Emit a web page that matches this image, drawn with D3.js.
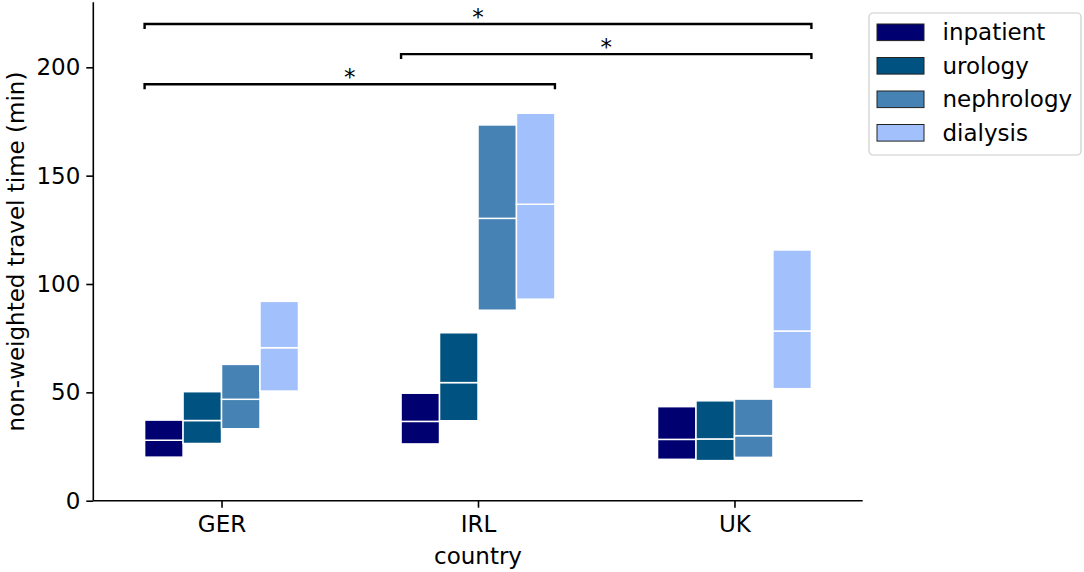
<!DOCTYPE html>
<html>
<head>
<meta charset="utf-8">
<script src="https://cdn.jsdelivr.net/npm/d3@7"></script>
<style>
  html, body { margin: 0; padding: 0; background: #fff; }
  svg { display: block; font-family: "DejaVu Sans", sans-serif; }
  text { fill: #000; }
</style>
</head>
<body>
<svg id="chart" width="1084" height="572"></svg>
<script>
// ---- data ----
const countries = ["GER", "IRL", "UK"];
const services = ["inpatient", "urology", "nephrology", "dialysis"];
const colors = ["#000070", "#005280", "#4682b4", "#a2c0fc"];
// lower quartile, median, upper quartile per service, in country order
const inpatientQ1 = [20.1, 26.2, 19.1];
const inpatientMed = [27.9, 36.6, 28.3];
const inpatientQ3 = [37.2, 49.6, 43.4];
const urologyQ1 = [26.4, 36.9, 18.5];
const urologyMed = [37.0, 54.5, 28.5];
const urologyQ3 = [50.3, 77.5, 46.1];
const nephrologyQ1 = [33.2, 87.9, 20.0];
const nephrologyMed = [46.8, 130.3, 30.0];
const nephrologyQ3 = [62.9, 173.4, 46.9];
const dialysisQ1 = [50.6, 93.0, 51.7];
const dialysisMed = [70.6, 136.8, 78.3];
const dialysisQ3 = [92.0, 178.8, 115.7];
const yTicks = [0, 50, 100, 150, 200];
// significance brackets: from country index, to country index, height (min)
const bracketFrom = [0, 1, 0];
const bracketTo = [2, 2, 1];
const bracketY = [220, 206.1, 192.2];
const bracketLabel = ["*", "*", "*"];

const q1 = [inpatientQ1, urologyQ1, nephrologyQ1, dialysisQ1];
const med = [inpatientMed, urologyMed, nephrologyMed, dialysisMed];
const q3 = [inpatientQ3, urologyQ3, nephrologyQ3, dialysisQ3];

// ---- layout ----
const svg = d3.select("#chart");
const pLeft = 93.3, pRight = 862.7, pTop = 2.3, pBottom = 500.7;
const x = d3.scaleLinear().domain([-0.5, 2.5]).range([pLeft, pRight]);
const y = d3.scaleLinear().domain([0, 230]).range([pBottom, pTop]);
const barW = 0.15;
const fontSize = 23;

// bars: two stacked rects per service/country
const segs = [];
services.forEach((s, si) => {
  countries.forEach((c, ci) => {
    const xc = ci + (si - 1.5) * barW;
    segs.push({ si, x0: xc - barW / 2, x1: xc + barW / 2, lo: q1[si][ci], hi: med[si][ci] });
    segs.push({ si, x0: xc - barW / 2, x1: xc + barW / 2, lo: med[si][ci], hi: q3[si][ci] });
  });
});
svg.append("g").selectAll("rect").data(segs).join("rect")
  .attr("x", d => x(d.x0))
  .attr("width", d => x(d.x1) - x(d.x0))
  .attr("y", d => y(d.hi))
  .attr("height", d => y(d.lo) - y(d.hi))
  .attr("fill", d => colors[d.si])
  .attr("stroke", "#fff")
  .attr("stroke-width", 1.5);

// axes
const yAxis = d3.axisLeft(y).tickValues(yTicks).tickSize(7).tickPadding(6);
const gy = svg.append("g").attr("transform", `translate(${pLeft},0)`).call(yAxis);
const xAxis = d3.axisBottom(x).tickValues([0, 1, 2]).tickFormat(i => countries[i]).tickSize(7).tickPadding(8);
const gx = svg.append("g").attr("transform", `translate(0,${pBottom})`).call(xAxis);
[gx, gy].forEach(g => {
  g.attr("font-family", null).attr("font-size", null);
  g.select(".domain").attr("stroke", "#000").attr("stroke-width", 1.6);
  g.selectAll(".tick line").attr("stroke", "#000").attr("stroke-width", 1.6);
  g.selectAll(".tick text").attr("fill", "#000").style("font-size", fontSize + "px")
    .style("font-family", "'DejaVu Sans'");
});
gy.select(".domain").attr("d", `M0,${pBottom}V${pTop}`);
gx.select(".domain").attr("d", `M${pLeft},0H${pRight}`);

// axis labels
svg.append("text")
  .attr("x", x(1)).attr("y", 564)
  .attr("text-anchor", "middle")
  .style("font-size", fontSize + "px")
  .text("country");
svg.append("text")
  .attr("transform", `translate(24,${(pTop + pBottom) / 2}) rotate(-90)`)
  .attr("text-anchor", "middle")
  .style("font-size", fontSize + "px")
  .text("non-weighted travel time (min)");

// significance brackets
const drop = 2.3;
const br = svg.append("g");
bracketY.forEach((h, i) => {
  const xa = x(bracketFrom[i] - 2 * barW), xb = x(bracketTo[i] + 2 * barW);
  br.append("path")
    .attr("d", `M${xa},${y(h - drop)}V${y(h)}H${xb}V${y(h - drop)}`)
    .attr("fill", "none").attr("stroke", "#000").attr("stroke-width", 2.4);
  br.append("text")
    .attr("x", (xa + xb) / 2).attr("y", y(h) + 1)
    .attr("text-anchor", "middle")
    .style("font-size", fontSize + "px")
    .text(bracketLabel[i]);
});

// legend
const lg = svg.append("g");
lg.append("rect").attr("x", 869).attr("y", 13).attr("width", 212).attr("height", 142)
  .attr("rx", 4).attr("fill", "#fff").attr("fill-opacity", 0.8)
  .attr("stroke", "#cccccc").attr("stroke-width", 1.2);
services.forEach((s, i) => {
  const cy = 32.3 + i * 33.5;
  lg.append("rect").attr("x", 877).attr("y", cy - 8.3).attr("width", 47).attr("height", 16.6)
    .attr("fill", colors[i]).attr("stroke", "#222").attr("stroke-width", 1);
  lg.append("text").attr("x", 942.5).attr("y", cy + 8)
    .style("font-size", fontSize + "px").text(s);
});
</script>
</body>
</html>
